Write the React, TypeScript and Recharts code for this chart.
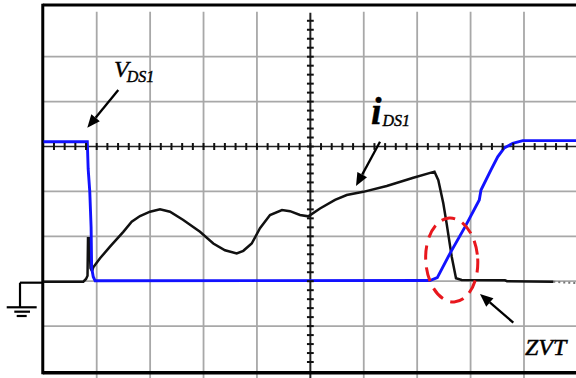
import React from 'react';
import { ComposedChart, Line, Scatter, XAxis, YAxis, ReferenceLine, ReferenceDot } from 'recharts';

// Scope screen in divisions: x 0..10 (time), y in divisions above ground level
const Y_MIN = -2.1559;
const Y_MAX = 6.2628;

// V_DS1 trace (blue)
const vdsX = [0, 0.824, 0.84, 0.87, 0.895, 0.905, 0.935, 0.97, 7.24, 7.377, 7.615, 7.896, 8.163, 8.195, 8.382, 8.508, 8.631, 8.789, 8.976, 10];
const vdsY = [3.107, 3.107, 2.5, 2.0, 1.2, 0.3, 0.1, 0.01, 0.015, 0.08, 0.62, 1.21, 1.81, 2.03, 2.48, 2.77, 2.97, 3.07, 3.13, 3.13];

// i_DS1 trace (black)
const idsX = [0, 0.749, 0.8, 0.828, 0.837, 0.861, 0.884, 0.912, 0.936, 1.062, 1.249, 1.498, 1.655, 1.811, 1.998, 2.185, 2.372, 2.621, 2.934, 3.183, 3.402, 3.621, 3.745, 3.902, 4.057, 4.245, 4.469, 4.619, 4.806, 4.962, 5.181, 5.462, 5.681, 5.991, 6.43, 6.928, 7.324, 7.396, 7.489, 7.553, 7.647, 7.727, 7.834, 8.644, 8.682, 9.549];
const idsY = [-0.01, -0.01, 0.05, 0.12, 0.955, 0.955, 0.29, 0.23, 0.31, 0.51, 0.77, 1.1, 1.325, 1.452, 1.548, 1.6, 1.548, 1.363, 1.1, 0.84, 0.69, 0.62, 0.677, 0.84, 1.18, 1.474, 1.586, 1.56, 1.474, 1.445, 1.62, 1.81, 1.92, 1.99, 2.12, 2.305, 2.44, 2.25, 1.735, 1.274, 0.546, 0.065, 0.027, 0.02, 0.0, -0.01];

// faint dotted tail of i_DS1 at the right edge
const tailX = [9.549, 9.75, 9.97];
const tailY = [-0.01, -0.03, -0.04];

// graticule
const gridXs = [1, 2, 3, 4, 6, 7, 8, 9, 10];
const gridYs = [-1, 0, 1, 2, 4, 5];
const AXIS_X = 5;
const AXIS_Y = 3;
const hTicks = Array.from({ length: 49 }, (_, i) => ({ x: (i + 1) * 0.2, y: AXIS_Y }));
const vTicks = Array.from({ length: 39 }, (_, i) => ({ x: AXIS_X, y: -1.8 + i * 0.2 }));

const zip = (xs: number[], ys: number[]) => xs.map((x, i) => ({ x, y: ys[i] }));
const vdsData = zip(vdsX, vdsY);
const idsData = zip(idsX, idsY);
const tailData = zip(tailX, tailY);

const SERIF = '"Liberation Serif", "Times New Roman", serif';

const arrowShape = (p: any) => {
  const { x1, y1, x2, y2 } = p;
  const a = Math.atan2(y2 - y1, x2 - x1);
  const L = 13;
  const W = 5.5;
  const bx = x2 - L * Math.cos(a);
  const by = y2 - L * Math.sin(a);
  const pts = `${x2},${y2} ${bx + W * Math.sin(a)},${by - W * Math.cos(a)} ${bx - W * Math.sin(a)},${by + W * Math.cos(a)}`;
  return (
    <g>
      <line x1={x1} y1={y1} x2={bx} y2={by} stroke="#000" strokeWidth={2.3} />
      <polygon points={pts} fill="#000" />
    </g>
  );
};

const hTickShape = (p: any) => (
  <line x1={p.cx} x2={p.cx} y1={p.cy - 3.4} y2={p.cy + 3.4} stroke="#111" strokeWidth={2} />
);
const vTickShape = (p: any) => (
  <line x1={p.cx - 3.4} x2={p.cx + 3.4} y1={p.cy} y2={p.cy} stroke="#111" strokeWidth={2} />
);

export default function App() {
  return (
    <div style={{ position: 'absolute', left: 0, top: 0, width: 576, height: 378, overflow: 'hidden', background: '#fff' }}>
      <ComposedChart width={600} height={378} margin={{ top: 0, right: 22.6, bottom: 0, left: 43.3 }}>
        <XAxis type="number" dataKey="x" domain={[0, 10]} hide allowDataOverflow />
        <YAxis type="number" dataKey="y" domain={[Y_MIN, Y_MAX]} hide allowDataOverflow />

        {gridYs.map((g) => (
          <ReferenceLine key={'gy' + g} segment={[{ x: 0, y: g }, { x: 10, y: g }]} stroke="#a8a8a8" strokeWidth={1.8} ifOverflow="visible" />
        ))}
        {gridXs.map((g) => (
          <ReferenceLine key={'gx' + g} segment={[{ x: g, y: Y_MIN }, { x: g, y: 6 }]} stroke="#a8a8a8" strokeWidth={1.8} ifOverflow="visible" />
        ))}

        <ReferenceLine segment={[{ x: 0, y: AXIS_Y }, { x: 10, y: AXIS_Y }]} stroke="#222" strokeWidth={1.7} ifOverflow="visible" />
        <ReferenceLine segment={[{ x: AXIS_X, y: Y_MIN }, { x: AXIS_X, y: 5.98 }]} stroke="#222" strokeWidth={2} ifOverflow="visible" />

        {/* frame */}
        <ReferenceLine segment={[{ x: -0.01, y: 6.151 }, { x: 10, y: 6.151 }]} stroke="#000" strokeWidth={3} ifOverflow="visible" />
        <ReferenceLine segment={[{ x: -0.01, y: -2.038 }, { x: 10, y: -2.038 }]} stroke="#000" strokeWidth={3.6} ifOverflow="visible" />
        <ReferenceLine segment={[{ x: -0.01, y: -2.075 }, { x: -0.01, y: 6.18 }]} stroke="#000" strokeWidth={3} ifOverflow="visible" />

        <Scatter data={hTicks} dataKey="y" shape={hTickShape} isAnimationActive={false} />
        <Scatter data={vTicks} dataKey="y" shape={vTickShape} isAnimationActive={false} />

        {/* ground symbol */}
        <ReferenceLine segment={[{ x: -0.436, y: -0.033 }, { x: 0, y: -0.033 }]} stroke="#000" strokeWidth={2.2} ifOverflow="visible" />
        <ReferenceLine segment={[{ x: -0.436, y: -0.033 }, { x: -0.436, y: -0.581 }]} stroke="#000" strokeWidth={2.2} ifOverflow="visible" />
        <ReferenceLine segment={[{ x: -0.685, y: -0.581 }, { x: -0.124, y: -0.581 }]} stroke="#000" strokeWidth={2.2} ifOverflow="visible" />
        <ReferenceLine segment={[{ x: -0.543, y: -0.679 }, { x: -0.249, y: -0.679 }]} stroke="#000" strokeWidth={2.2} ifOverflow="visible" />
        <ReferenceLine segment={[{ x: -0.498, y: -0.775 }, { x: -0.311, y: -0.775 }]} stroke="#000" strokeWidth={2.2} ifOverflow="visible" />

        <Line data={tailData} dataKey="y" type="linear" stroke="#777" strokeWidth={2} strokeDasharray="2 3" dot={false} isAnimationActive={false} />
        <Line data={idsData} dataKey="y" type="linear" stroke="#111" strokeWidth={2.5} dot={false} isAnimationActive={false} />
        <Line data={vdsData} dataKey="y" type="linear" stroke="#1212ff" strokeWidth={2.9} dot={false} isAnimationActive={false} />

        {/* ZVT ellipse */}
        <ReferenceDot
          x={7.647}
          y={0.472}
          r={0}
          ifOverflow="visible"
          shape={(p: any) => (
            <ellipse cx={p.cx} cy={p.cy} rx={26} ry={42} fill="none" stroke="#e8171d" strokeWidth={3} strokeDasharray="14 8" transform={`rotate(-3.4 ${p.cx} ${p.cy})`} />
          )}
        />

        {/* arrows */}
        <ReferenceLine segment={[{ x: 1.404, y: 4.258 }, { x: 0.824, y: 3.419 }]} shape={arrowShape} ifOverflow="visible" />
        <ReferenceLine segment={[{ x: 6.304, y: 3.107 }, { x: 5.855, y: 2.12 }]} shape={arrowShape} ifOverflow="visible" />
        <ReferenceLine segment={[{ x: 8.8, y: -0.924 }, { x: 8.176, y: -0.285 }]} shape={arrowShape} ifOverflow="visible" />

        {/* labels */}
        <ReferenceDot
          x={1.324}
          y={4.541}
          r={0}
          ifOverflow="visible"
          shape={(p: any) => (
            <text x={p.cx} y={p.cy} fontFamily={SERIF} fontStyle="italic" fill="#000" stroke="#000" strokeWidth={0.4}>
              <tspan fontSize={24}>V</tspan>
              <tspan fontSize={16} dx={-2} dy={5}>DS1</tspan>
            </text>
          )}
        />
        <ReferenceDot
          x={6.135}
          y={3.512}
          r={0}
          ifOverflow="visible"
          shape={(p: any) => (
            <text x={p.cx} y={p.cy} fontFamily={SERIF} fontStyle="italic" fill="#000" stroke="#000" strokeWidth={0.4}>
              <tspan fontSize={38} fontWeight="bold">i</tspan>
              <tspan fontSize={16} dx={1} dy={2}>DS1</tspan>
            </text>
          )}
        />
        <ReferenceDot
          x={9.019}
          y={-1.643}
          r={0}
          ifOverflow="visible"
          shape={(p: any) => (
            <text x={p.cx} y={p.cy} fontFamily={SERIF} fontStyle="italic" fontSize={24} fill="#000" stroke="#000" strokeWidth={0.5}>
              ZVT
            </text>
          )}
        />
      </ComposedChart>
    </div>
  );
}
